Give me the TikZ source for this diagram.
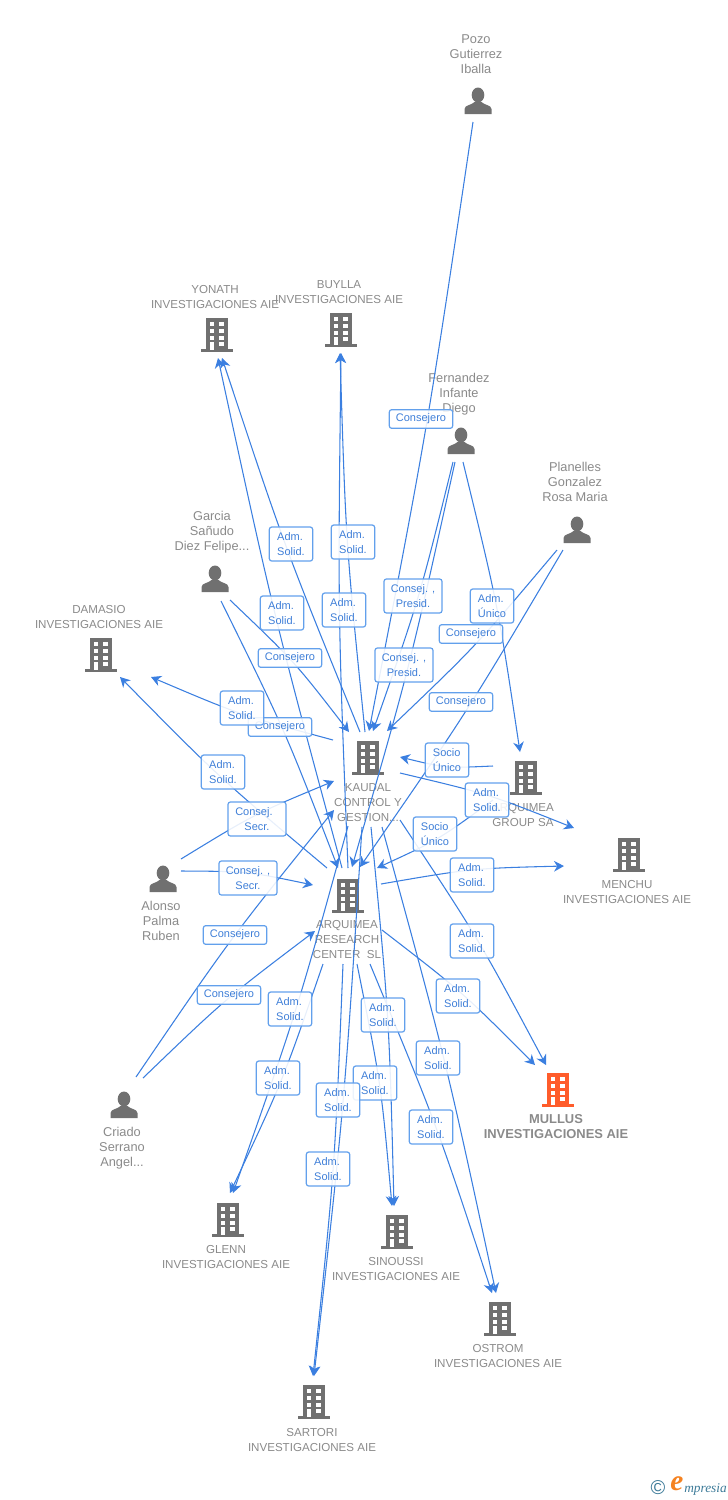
\documentclass[tikz,border=0pt]{standalone}
\usepackage{fontspec}
\setmainfont{Liberation Sans}
\newfontfamily\logofont{Liberation Serif}
\usetikzlibrary{arrows.meta,calc}
\definecolor{linkblue}{HTML}{3B7FE0}
\definecolor{tagborder}{HTML}{62A0EC}
\definecolor{tagtext}{HTML}{3F7FD8}
\definecolor{icongray}{HTML}{707070}
\definecolor{textgray}{HTML}{8A8A8A}
\definecolor{mullusred}{HTML}{FF5C2B}
\definecolor{logoteal}{HTML}{3C7A98}
\definecolor{logoorange}{HTML}{F58220}
\tikzset{
  edge/.style={linkblue,line width=.8pt,-{Stealth[length=7.5pt,width=8pt,inset=2.4pt]}},
  tag/.style={draw=tagborder,line width=.9pt,rounded corners=1.8pt,fill=white,fill opacity=.88,text opacity=1,
    text=tagtext,inner sep=0pt,font=\fontsize{8.25}{11.25}\selectfont},
  tagone/.style={tag,minimum width=47.5pt,minimum height=14pt},
  tagtwo/.style={tag,minimum width=32.5pt,minimum height=25.5pt,align=left},
  tagwide/.style={tag,minimum width=43.5pt,minimum height=25.5pt,align=center},
  firm/.style={text=textgray,align=center,inner sep=0pt,font=\fontsize{8.68}{11.25}\selectfont},
  firmbold/.style={text=textgray,align=center,inner sep=0pt,font=\fontsize{9.7}{11.25}\selectfont\bfseries},
  people/.style={text=textgray,align=center,inner sep=0pt,font=\fontsize{9.6}{11.25}\selectfont},
  pics/bldg/.style={code={
    \fill[#1] (-11,-17) rectangle (11,15);
    \fill[#1] (-16,14) rectangle (16,17);
    \fill[white] (-7.3,-13) rectangle (-2.7,-8.7);
    \fill[white] (2.3,-13) rectangle (7,-8.7);
    \fill[white] (-7.3,-6) rectangle (-2.7,-2);
    \fill[white] (2.3,-6) rectangle (7,-2);
    \fill[white] (-7.3,.7) rectangle (-2.7,4.7);
    \fill[white] (2.3,.7) rectangle (7,4.7);
    \fill[white] (-7.3,7) rectangle (-2.7,14.5);
    \fill[white] (2.3,7) rectangle (7,11);
  }},
  pics/pers/.style={code={
    \fill[icongray] (0,-6) ellipse (6.3 and 7.5);
    \fill[icongray] (-13.5,13) -- (-13.5,8) .. controls (-13.5,4) and (-6,4) .. (-3.5,1)
      -- (3.5,1) .. controls (6,4) and (13.5,4) .. (13.5,8) -- (13.5,13) -- cycle;
  }}
}
% bowed link, source to target
\newcommand{\lnk}[2]{\draw[edge] (#1) .. controls ($(#1)!.5!(#2)!5pt!90:(#2)$) .. (#2);}

\begin{document}
\begin{tikzpicture}[x=.75pt,y=-.75pt]
\useasboundingbox (0,0) rectangle (728,1500);

% persons
\pic at (478,101) {pers};
\node[people] (pozo) at (476,54) {Pozo\\Gutierrez\\Iballa};
\pic at (461,441) {pers};
\node[people] (fernandez) at (459,394) {Fernandez\\Infante\\Diego};
\pic at (577,530) {pers};
\node[people] (planelles) at (575,482) {Planelles\\Gonzalez\\Rosa Maria};
\pic at (215,579) {pers};
\node[people] (garcia) at (212,532) {Garcia\\Sañudo\\Diez Felipe...};
\pic at (163,879) {pers};
\node[people] (alonso) at (161,921) {Alonso\\Palma\\Ruben};
\pic at (124,1105) {pers};
\node[people] (criado) at (122,1148) {Criado\\Serrano\\Angel...};

% companies
\pic at (217,335) {bldg=icongray};
\node[firm] (yonath) at (215,297) {YONATH\\INVESTIGACIONES AIE};
\pic at (341,330) {bldg=icongray};
\node[firm] (buylla) at (339,292) {BUYLLA\\INVESTIGACIONES AIE};
\pic at (101,655) {bldg=icongray};
\node[firm] (damasio) at (99,617) {DAMASIO\\INVESTIGACIONES AIE};
\pic at (368,758) {bldg=icongray};
\node[firm] (kaudal) at (368,803) {KAUDAL\\CONTROL Y\\GESTION...};
\pic at (526,778) {bldg=icongray};
\node[firm] (group) at (523,815) {ARQUIMEA\\GROUP SA};
\pic at (629,855) {bldg=icongray};
\node[firm] (menchu) at (627,892) {MENCHU\\INVESTIGACIONES AIE};
\pic at (348,896) {bldg=icongray};
\node[firm] (research) at (347,940) {ARQUIMEA\\RESEARCH\\CENTER\ \ SL};
\pic at (558,1090) {bldg=mullusred};
\node[firmbold] (mullus) at (556,1127) {MULLUS\\INVESTIGACIONES AIE};
\pic at (228,1220) {bldg=icongray};
\node[firm] (glenn) at (226,1257) {GLENN\\INVESTIGACIONES AIE};
\pic at (397,1232) {bldg=icongray};
\node[firm] (sinoussi) at (396,1269) {SINOUSSI\\INVESTIGACIONES AIE};
\pic at (500,1319) {bldg=icongray};
\node[firm] (ostrom) at (498,1356) {OSTROM\\INVESTIGACIONES AIE};
\pic at (314,1402) {bldg=icongray};
\node[firm] (sartori) at (312,1440) {SARTORI\\INVESTIGACIONES AIE};

% link ends
\coordinate (pozoOut) at (473,122); \coordinate (kaPozo) at (369,731);
\coordinate (ferOutA) at (453,462); \coordinate (kaFer) at (373,731);
\coordinate (ferOutB) at (455,462); \coordinate (reFer) at (352,867);
\coordinate (ferOutC) at (463,462); \coordinate (grFer) at (520,752);
\coordinate (planOutA) at (557,550); \coordinate (kaPlan) at (387,731);
\coordinate (planOutB) at (563,550); \coordinate (rePlan) at (360,867);
\coordinate (garOutA) at (230,600); \coordinate (kaGar) at (349,732);
\coordinate (garOutB) at (221,601); \coordinate (reGar) at (338,868);
\coordinate (aloOutA) at (181,859); \coordinate (kaAlo) at (334,781);
\coordinate (aloOutB) at (181,871); \coordinate (reAlo) at (313,885);
\coordinate (criOutA) at (136,1077); \coordinate (kaCri) at (334,810);
\coordinate (criOutB) at (143,1078); \coordinate (reCri) at (315,931);
\coordinate (kaOutY) at (360,732); \coordinate (yoKa) at (222,358);
\coordinate (reOutY) at (342,868); \coordinate (yoRe) at (218,358);
\coordinate (kaOutB) at (365,732); \coordinate (buKa) at (340,353);
\coordinate (reOutB) at (348,868); \coordinate (buRe) at (341,353);
\coordinate (kaOutD) at (333,740); \coordinate (daKa) at (151,677);
\coordinate (reOutD) at (327,868); \coordinate (daRe) at (120,677);
\coordinate (grOutK) at (493,766); \coordinate (kaGr) at (400,757);
\coordinate (grOutR) at (493,800); \coordinate (reGr) at (377,868);
\coordinate (kaOutM) at (400,773); \coordinate (meKa) at (574,828);
\coordinate (reOutM) at (381,884); \coordinate (meRe) at (564,866);
\coordinate (kaOutU) at (400,820); \coordinate (muKa) at (546,1065);
\coordinate (reOutU) at (382,930); \coordinate (muRe) at (535,1065);
\coordinate (kaOutG) at (348,826); \coordinate (glKa) at (233,1193);
\coordinate (reOutG) at (323,964); \coordinate (glRe) at (230,1193);
\coordinate (kaOutT) at (362,827); \coordinate (saKa) at (314,1376);
\coordinate (reOutT) at (343,964); \coordinate (saRe) at (313,1376);
\coordinate (kaOutS) at (371,827); \coordinate (siKa) at (394,1206);
\coordinate (reOutS) at (357,964); \coordinate (siRe) at (392,1206);
\coordinate (kaOutO) at (382,827); \coordinate (osKa) at (496,1293);
\coordinate (reOutO) at (370,964); \coordinate (osRe) at (492,1293);

% links
\lnk{pozoOut}{kaPozo}
\lnk{ferOutA}{kaFer}
\lnk{ferOutB}{reFer}
\lnk{ferOutC}{grFer}
\lnk{planOutA}{kaPlan}
\lnk{planOutB}{rePlan}
\lnk{garOutA}{kaGar}
\lnk{garOutB}{reGar}
\lnk{aloOutA}{kaAlo}
\lnk{aloOutB}{reAlo}
\lnk{criOutA}{kaCri}
\lnk{criOutB}{reCri}
\lnk{kaOutY}{yoKa}
\lnk{reOutY}{yoRe}
\lnk{kaOutB}{buKa}
\lnk{reOutB}{buRe}
\lnk{kaOutD}{daKa}
\lnk{reOutD}{daRe}
\lnk{grOutK}{kaGr}
\lnk{grOutR}{reGr}
\lnk{kaOutM}{meKa}
\lnk{reOutM}{meRe}
\lnk{kaOutU}{muKa}
\lnk{reOutU}{muRe}
\lnk{kaOutG}{glKa}
\lnk{reOutG}{glRe}
\lnk{kaOutT}{saKa}
\lnk{reOutT}{saRe}
\lnk{kaOutS}{siKa}
\lnk{reOutS}{siRe}
\lnk{kaOutO}{osKa}
\lnk{reOutO}{osRe}

% tags
\node[tagone] (t1) at (421,419) {Consejero};
\node[tagtwo] (t2) at (291,544) {Adm.\\Solid.};
\node[tagtwo] (t3) at (353,542) {Adm.\\Solid.};
\node[tagwide] (t4) at (413,596) {Consej. ,\\Presid.};
\node[tagtwo] (t5) at (492,606) {Adm.\\Único};
\node[tagtwo] (t6) at (282,613) {Adm.\\Solid.};
\node[tagtwo] (t7) at (344,610) {Adm.\\Solid.};
\node[tagone] (t8) at (471,634) {Consejero};
\node[tagone] (t9) at (290,658) {Consejero};
\node[tagwide] (t10) at (404,665) {Consej. ,\\Presid.};
\node[tagone] (t11) at (461,702) {Consejero};
\node[tagone] (t13) at (280,727) {Consejero};
\node[tagtwo] (t12) at (242,708) {Adm.\\Solid.};
\node[tagtwo] (t14) at (223,772) {Adm.\\Solid.};
\node[tagtwo] (t15) at (447,760) {Socio\\Único};
\node[tagtwo] (t16) at (487,800) {Adm.\\Solid.};
\node[tagwide] (t17) at (257,819) {Consej.\phantom{ ,}\\Secr.};
\node[tagtwo] (t18) at (435,834) {Socio\\Único};
\node[tagwide] (t19) at (248,878) {Consej. ,\\Secr.};
\node[tagtwo] (t20) at (472,875) {Adm.\\Solid.};
\node[tagone] (t21) at (235,935) {Consejero};
\node[tagtwo] (t22) at (472,941) {Adm.\\Solid.};
\node[tagone] (t23) at (229,995) {Consejero};
\node[tagtwo] (t24) at (458,996) {Adm.\\Solid.};
\node[tagtwo] (t25) at (290,1009) {Adm.\\Solid.};
\node[tagtwo] (t26) at (383,1015) {Adm.\\Solid.};
\node[tagtwo] (t27) at (438,1058) {Adm.\\Solid.};
\node[tagtwo] (t28) at (278,1078) {Adm.\\Solid.};
\node[tagtwo] (t29) at (375,1083) {Adm.\\Solid.};
\node[tagtwo] (t30) at (338,1100) {Adm.\\Solid.};
\node[tagtwo] (t31) at (431,1127) {Adm.\\Solid.};
\node[tagtwo] (t32) at (328,1169) {Adm.\\Solid.};

% logo
\node[text=logoteal,font=\fontsize{15}{15}\selectfont] (copyr) at (658,1488) {©};
\node[text=logoorange,font=\logofont\fontsize{22}{22}\selectfont\itshape\bfseries] (logoE) at (677,1484) {e};
\node[text=logoteal,font=\logofont\fontsize{10}{10}\selectfont\itshape,anchor=west,inner sep=0pt] (logoRest) at (684,1489) {mpresia};
\end{tikzpicture}
\end{document}
